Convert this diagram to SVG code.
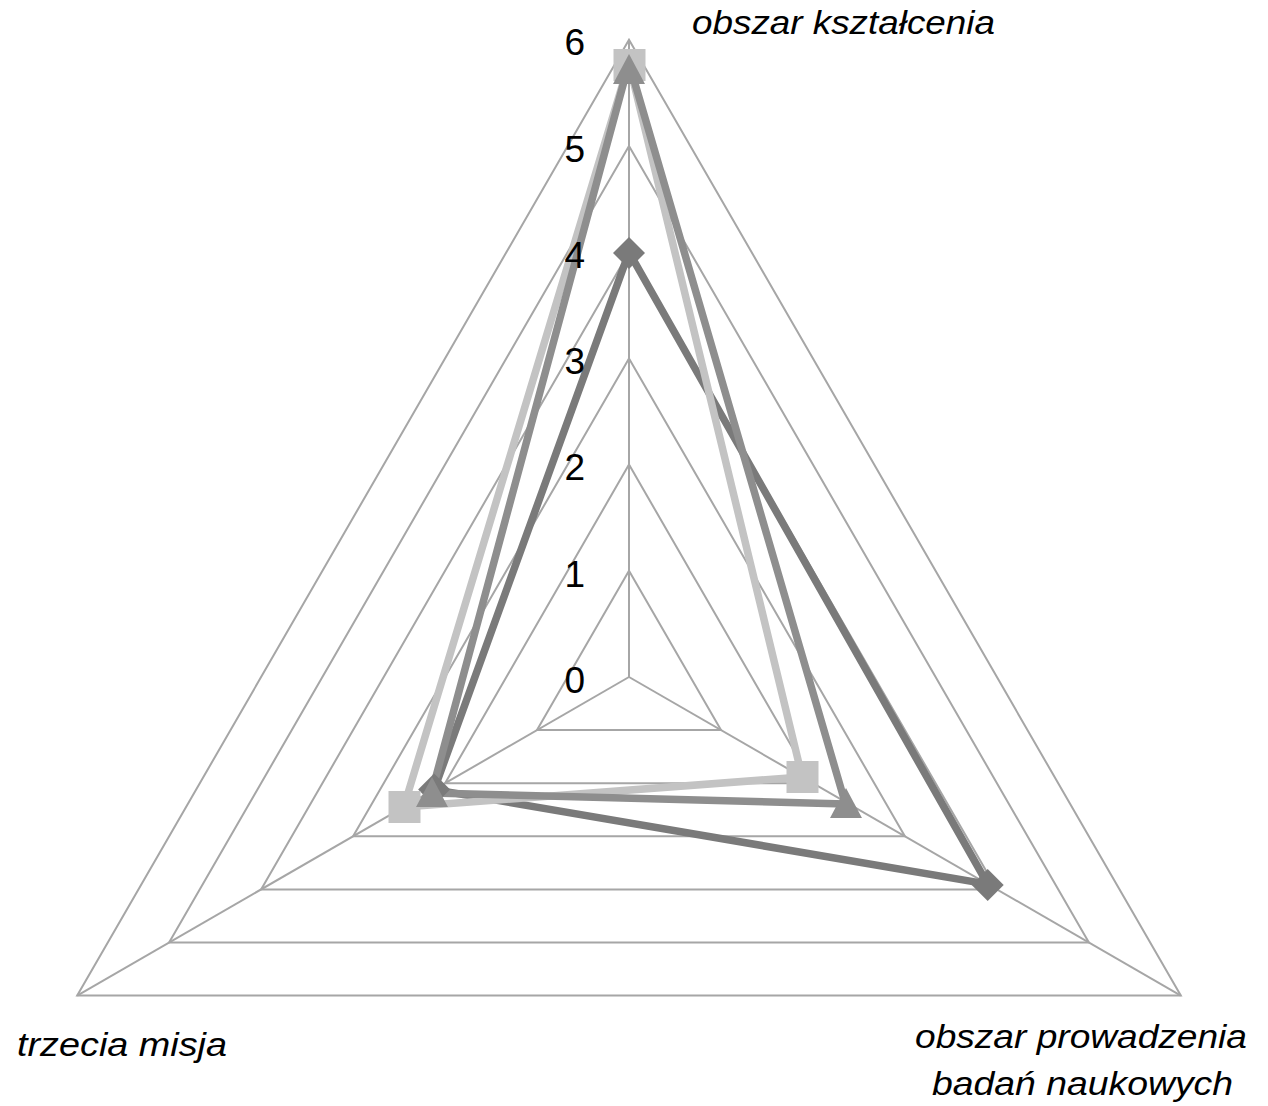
<svg xmlns="http://www.w3.org/2000/svg" width="1268" height="1106" viewBox="0 0 1268 1106">
<style>
.grid{fill:none;stroke:#a6a6a6;stroke-width:2}
.tick{font-family:"Liberation Sans",Arial,sans-serif;font-size:37px;fill:#000;text-anchor:end}
.axis{font-family:"Liberation Sans",Arial,sans-serif;font-size:33px;font-style:italic;fill:#000}
.s1{fill:none;stroke:#7a7a7a;stroke-width:7.5;stroke-linejoin:round}
.s2{fill:none;stroke:#c3c3c3;stroke-width:7.5;stroke-linejoin:round}
.s3{fill:none;stroke:#8e8e8e;stroke-width:7.5;stroke-linejoin:round}
</style>
<defs>
<path id="dia" d="M0,-16 L16,0 L0,16 L-16,0Z" fill="#7a7a7a"/>
<rect id="sq" x="-16" y="-16" width="32" height="32" fill="#c3c3c3"/>
<path id="tri" d="M0,-16 L16,14 L-16,14Z" fill="#8e8e8e"/>
</defs>
<rect width="1268" height="1106" fill="#fff"/>
<g id="grid">
<polygon class="grid" points="629,39.8 1180.8,995.6 77.2,995.6"/>
<polygon class="grid" points="629,146 1088.9,942.5 169.1,942.5"/>
<polygon class="grid" points="629,252.2 996.9,889.4 261.1,889.4"/>
<polygon class="grid" points="629,358.4 904.9,836.3 353.1,836.3"/>
<polygon class="grid" points="629,464.6 812.9,783.2 445.1,783.2"/>
<polygon class="grid" points="629,570.8 721,730.1 537,730.1"/>
<line class="grid" x1="629" y1="677" x2="629" y2="39.8"/>
<line class="grid" x1="629" y1="677" x2="1180.8" y2="995.6"/>
<line class="grid" x1="629" y1="677" x2="77.2" y2="995.6"/>
</g>
<g id="connectors">
<polygon class="s1" points="629,252.2 987.7,884.1 434.1,789.6"/>
<polygon class="s2" points="629,63 802.2,777 403.8,807"/>
<polygon class="s3" points="629,63 845.5,804 431.5,793"/>
</g>
<g id="series1-markers">
<use href="#dia" x="629" y="253"/>
<use href="#dia" x="987.7" y="885"/>
<use href="#dia" x="434.1" y="789.6"/>
</g>
<g id="series2-markers">
<use href="#sq" x="629.5" y="65"/>
<use href="#sq" x="802.5" y="777"/>
<use href="#sq" x="404.5" y="807"/>
</g>
<g id="series3-markers">
<use href="#tri" x="629" y="70"/>
<use href="#tri" x="846" y="804"/>
<use href="#tri" x="432" y="793"/>
</g>
<g id="ticks">
<text class="tick" x="585" y="693">0</text>
<text class="tick" x="585" y="587">1</text>
<text class="tick" x="585" y="480">2</text>
<text class="tick" x="585" y="374">3</text>
<text class="tick" x="585" y="268">4</text>
<text class="tick" x="585" y="162">5</text>
<text class="tick" x="585" y="55">6</text>
</g>
<g id="label-top"><text class="axis" x="692" y="34" textLength="303" lengthAdjust="spacingAndGlyphs">obszar kształcenia</text></g>
<g id="label-left"><text class="axis" x="17" y="1056" textLength="210" lengthAdjust="spacingAndGlyphs">trzecia misja</text></g>
<g id="label-right">
<text class="axis" x="915" y="1048" textLength="332" lengthAdjust="spacingAndGlyphs">obszar prowadzenia</text>
<text class="axis" x="932" y="1095" textLength="301" lengthAdjust="spacingAndGlyphs">badań naukowych</text>
</g>
</svg>
